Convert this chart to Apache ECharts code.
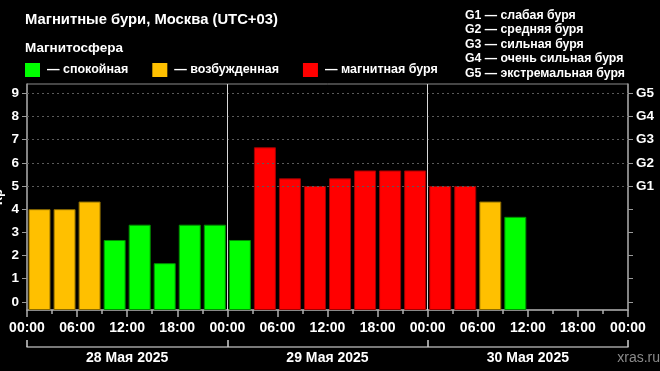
<!DOCTYPE html>
<html>
<head>
<meta charset="utf-8">
<script src="https://cdn.jsdelivr.net/npm/echarts@6/dist/echarts.min.js"></script>
<style>
html,body{margin:0;padding:0;background:#000;}
#chart{width:660px;height:371px;}
</style>
</head>
<body>
<div id="chart"></div>
<script>
// 3-hour slot centres (hours since 28 May 00:00)
const slotCenters = [1.5, 4.5, 7.5, 10.5, 13.5, 16.5, 19.5, 22.5,
                     25.5, 28.5, 31.5, 34.5, 37.5, 40.5, 43.5, 46.5,
                     49.5, 52.5, 55.5, 58.5];
// Kp index per slot
const kpValues = [4.00, 4.00, 4.33, 2.67, 3.33, 1.67, 3.33, 3.33,
                  2.67, 6.67, 5.33, 5.00, 5.33, 5.67, 5.67, 5.67,
                  5.00, 5.00, 4.33, 3.67];
const timeLabels = ['00:00', '06:00', '12:00', '18:00'];
const dayLabels = ['28 Мая 2025', '29 Мая 2025', '30 Мая 2025'];
const kpTicks = [0, 1, 2, 3, 4, 5, 6, 7, 8, 9];
const gValues = [5, 6, 7, 8, 9];
const gLabels = ['G1', 'G2', 'G3', 'G4', 'G5'];
const gLegend = ['G1 — слабая буря', 'G2 — средняя буря', 'G3 — сильная буря',
                 'G4 — очень сильная буря', 'G5 — экстремальная буря'];
const stateNames = ['— спокойная', '— возбужденная', '— магнитная буря'];
const dayBreaks = [24, 48];

const FONT = 'Liberation Sans, Arial, sans-serif';
const COL = {green: '#00ff00', orange: '#ffc000', red: '#ff0000'};
const BORDER = {green: '#009000', orange: '#8a6a00', red: '#a00000'};
function state(v) { return v >= 5 ? 'red' : (v >= 4 ? 'orange' : 'green'); }

const barData = slotCenters.map((x, i) => {
  const s = state(kpValues[i]);
  return {value: [x, kpValues[i]], itemStyle: {color: COL[s], borderColor: BORDER[s]}};
});

const chart = echarts.init(document.getElementById('chart'));
chart.setOption({
  backgroundColor: '#000',
  animation: false,
  textStyle: {fontFamily: FONT},
  title: [
    {text: 'Магнитные бури, Москва (UTC+03)', left: 25, top: 12, padding: 0,
     textStyle: {color: '#fff', fontSize: 14.8, fontWeight: 'bold', fontFamily: FONT}},
    {text: 'Магнитосфера', left: 25, top: 41, padding: 0,
     textStyle: {color: '#fff', fontSize: 13.5, fontWeight: 'bold', fontFamily: FONT}},
    {text: gLegend.join('\n'), left: 465, top: 8, padding: 0,
     textStyle: {color: '#fff', fontSize: 12.3, fontWeight: 'bold', fontFamily: FONT, lineHeight: 14.5}},
    {text: 'xras.ru', right: 0, top: 351, padding: 0,
     textStyle: {color: '#8a8a8a', fontSize: 14, fontWeight: 'normal', fontFamily: FONT}}
  ],
  legend: {
    left: 25, top: 63, padding: 0, icon: 'rect', itemWidth: 15, itemHeight: 14, itemGap: 24,
    textStyle: {color: '#fff', fontSize: 12.5, fontWeight: 'bold', fontFamily: FONT, padding: [0, 0, 0, 2]},
    data: stateNames
  },
  grid: {left: 27, right: 32, top: 84, bottom: 61, show: true, outerBoundsMode: 'none',
         containLabel: false,
         borderColor: '#8c8c8c', borderWidth: 1, backgroundColor: 'transparent'},
  xAxis: [
    {type: 'value', min: 0, max: 72, interval: 6, position: 'bottom',
     axisLine: {show: true, onZero: false, lineStyle: {color: '#a0a0a0', width: 1.5}},
     axisTick: {show: true, length: 7, lineStyle: {color: '#b0b0b0', width: 1.5}},
     minorTick: {show: true, splitNumber: 2, length: 4, lineStyle: {color: '#b0b0b0', width: 1.5}},
     splitLine: {show: false},
     axisLabel: {color: '#fff', fontSize: 14, fontWeight: 'bold', fontFamily: FONT, margin: 11,
                 formatter: v => timeLabels[(v % 24) / 6]}},
    {type: 'category', data: dayLabels, position: 'bottom', offset: 37, boundaryGap: true,
     axisLine: {show: true, onZero: false, lineStyle: {color: '#a0a0a0', width: 1.5}},
     axisTick: {show: true, inside: true, length: 7, interval: 0, lineStyle: {color: '#d0d0d0', width: 1.5}},
     axisLabel: {color: '#fff', fontSize: 14, fontWeight: 'bold', fontFamily: FONT, margin: 4, interval: 0},
     splitLine: {show: false}}
  ],
  yAxis: [
    {type: 'value', min: -0.35, max: 9.4, startValue: -0.35, position: 'left',
     name: 'Кр', nameLocation: 'middle', nameGap: 22, nameMoveOverlap: false,
     nameTextStyle: {color: '#fff', fontSize: 13, fontWeight: 'bold', fontFamily: FONT},
     axisLine: {show: true, onZero: false, lineStyle: {color: '#9a9a9a', width: 1.5}},
     axisTick: {show: true, length: 5, customValues: kpTicks, lineStyle: {color: '#9a9a9a'}},
     axisLabel: {color: '#fff', fontSize: 13.5, fontWeight: 'bold', fontFamily: FONT, margin: 8,
                 customValues: kpTicks},
     splitLine: {show: false}},
    {type: 'value', min: -0.35, max: 9.4, startValue: -0.35, position: 'right',
     axisLine: {show: true, onZero: false, lineStyle: {color: '#9a9a9a', width: 1.5}},
     axisTick: {show: true, length: 5, customValues: kpTicks, lineStyle: {color: '#9a9a9a'}},
     axisLabel: {color: '#fff', fontSize: 13.5, fontWeight: 'bold', fontFamily: FONT, margin: 8,
                 customValues: gValues, formatter: v => gLabels[gValues.indexOf(v)]},
     splitLine: {show: false}}
  ],
  series: [
    {type: 'bar', xAxisIndex: 0, yAxisIndex: 0, barWidth: 22, data: barData,
     itemStyle: {borderWidth: 1},
     markLine: {silent: true, symbol: 'none', label: {show: false},
       data: gValues.map(v => ({yAxis: v, lineStyle: {color: '#5a5a5a', type: [2, 3], width: 1}}))
         .concat(dayBreaks.map(d => ({xAxis: d, lineStyle: {color: '#d8d8d8', type: 'solid', width: 1}})))}},
    {type: 'scatter', name: stateNames[0], data: [], itemStyle: {color: COL.green, opacity: 1}},
    {type: 'scatter', name: stateNames[1], data: [], itemStyle: {color: COL.orange, opacity: 1}},
    {type: 'scatter', name: stateNames[2], data: [], itemStyle: {color: COL.red, opacity: 1}}
  ]
});
</script>
</body>
</html>
